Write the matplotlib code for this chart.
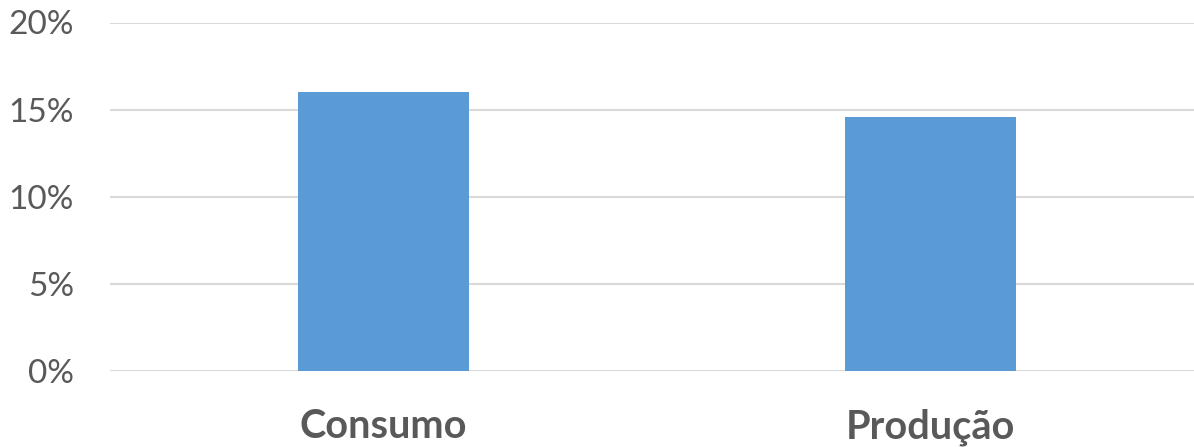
import matplotlib
matplotlib.use("Agg")
import matplotlib.pyplot as plt
from matplotlib.ticker import FuncFormatter

# data
categorias = ["Consumo", "Produção"]
valores = [16.0, 14.6]  # percent
yticks = [0, 5, 10, 15, 20]

plt.rcParams['font.family'] = ['Lato', 'DejaVu Sans']

fig = plt.figure(figsize=(11.94, 4.47), dpi=100)
ax = fig.add_axes([110 / 1194, 1 - 370.7 / 447, 1094 / 1194, 348.2 / 447])

x = range(len(categorias))
ax.bar(x, valores, width=0.313, color="#5b9bd5", zorder=3)

ax.set_xlim(-0.5, len(categorias) - 0.5)
ax.set_ylim(0, 20)
ax.set_yticks(yticks)
ax.yaxis.set_major_formatter(FuncFormatter(lambda v, p: f"{v:.0f}%"))
ax.grid(axis="y", color="#d9d9d9", linewidth=1.5, zorder=0)

ax.set_xticks(list(x))
ax.set_xticklabels(categorias, fontsize=28.5, fontweight="bold", color="#595959")
ax.tick_params(axis="x", length=0, pad=27)
ax.tick_params(axis="y", length=0, pad=26, labelsize=24, labelcolor="#595959")

for s in ax.spines.values():
    s.set_visible(False)

fig.savefig("out.png", dpi=100)
